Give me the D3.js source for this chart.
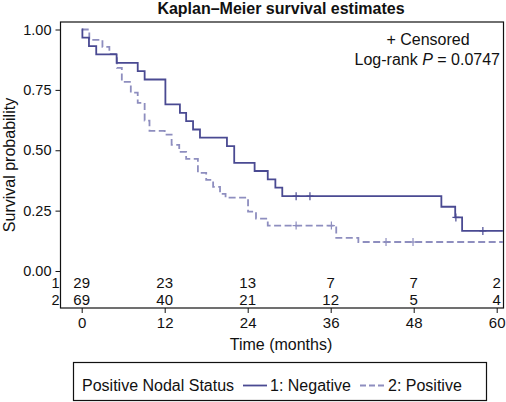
<!DOCTYPE html>
<html>
<head>
<meta charset="utf-8">
<script src="https://cdn.jsdelivr.net/npm/d3@7"></script>
<style>
  html, body { margin: 0; padding: 0; background: #fff; }
  svg { display: block; font-family: "Liberation Sans", Arial, Helvetica, sans-serif; }
</style>
</head>
<body>
<svg id="chart" width="506" height="402"></svg>
<script>
// ---- data ----
const xTicks = [0, 12, 24, 36, 48, 60];
const yTicks = [0, 0.25, 0.5, 0.75, 1.0];

// Group 1: Negative (solid)
const g1Times = [0.1, 1.05, 2.1, 5.05, 8.1, 9.1, 12.1, 14.2, 15.1, 16.1, 17.1, 21.0, 22.05, 25.0, 26.9, 28.0, 29.0, 52.0, 54.0, 55.0];
const g1Surv  = [0.966, 0.931, 0.897, 0.862, 0.828, 0.793, 0.690, 0.655, 0.621, 0.586, 0.552, 0.517, 0.448, 0.414, 0.379, 0.345, 0.310, 0.266, 0.222, 0.166];
const g1CensorTimes = [31.0, 33.0, 54.1, 58.0];
const g1CensorSurv  = [0.310, 0.310, 0.222, 0.166];

// Group 2: Positive (dashed)
const g2Times = [1.1, 3.0, 4.0, 5.1, 5.8, 7.1, 8.1, 9.1, 9.8, 12.0, 13.0, 14.1, 15.1, 16.8, 18.0, 19.0, 20.0, 20.8, 24.05, 25.2, 26.9, 36.8, 40.0];
const g2Surv  = [0.957, 0.928, 0.899, 0.841, 0.783, 0.739, 0.696, 0.623, 0.580, 0.565, 0.522, 0.493, 0.464, 0.406, 0.377, 0.348, 0.319, 0.304, 0.246, 0.217, 0.188, 0.137, 0.120];
const g2CensorTimes = [31.0, 36.1, 44.0, 47.9];
const g2CensorSurv  = [0.188, 0.188, 0.120, 0.120];

const endTime = 60.9;

// Numbers at risk
const riskTimes = [0, 12, 24, 36, 48, 60];
const riskG1 = [29, 23, 13, 7, 7, 2];
const riskG2 = [69, 40, 21, 12, 5, 4];

const groupLabels = ["1: Negative", "2: Positive"];
const legendTitle = "Positive Nodal Status";
const chartTitle = "Kaplan\u2013Meier survival estimates";

// ---- drawing ----
const svg = d3.select("#chart");
const solidColor = "#4a4a92";
const dashColor = "#8e8ebf";
const dashArray = "7,3.5";

const frame = {left: 60.5, top: 22, right: 503.5, bottom: 308};
const x = d3.scaleLinear().domain([0, 60]).range([81.7, 496.7]);
const y = d3.scaleLinear().domain([0, 1]).range([271, 29.5]);

// Title
svg.append("text")
  .attr("x", 281).attr("y", 14)
  .attr("text-anchor", "middle")
  .attr("font-weight", "bold")
  .attr("font-size", 16)
  .attr("fill", "#111")
  .text(chartTitle);

// Frame
svg.append("rect")
  .attr("x", frame.left).attr("y", frame.top)
  .attr("width", frame.right - frame.left)
  .attr("height", frame.bottom - frame.top)
  .attr("fill", "none").attr("stroke", "#111").attr("stroke-width", 1.2);

// Y axis
const yAxis = d3.axisLeft(y).tickValues(yTicks).tickFormat(d3.format(".2f")).tickSize(5).tickPadding(4);
const gy = svg.append("g").attr("transform", `translate(${frame.left},0)`).call(yAxis);
gy.select(".domain").remove();
gy.selectAll("text").attr("font-size", 14.5).attr("font-family", "Liberation Sans, Arial, sans-serif").attr("fill", "#111");
gy.selectAll("line").attr("stroke", "#111");

// X axis
const xAxis = d3.axisBottom(x).tickValues(xTicks).tickSize(5).tickPadding(4);
const gx = svg.append("g").attr("transform", `translate(0,${frame.bottom})`).call(xAxis);
gx.select(".domain").remove();
gx.selectAll("text").attr("font-size", 15).attr("font-family", "Liberation Sans, Arial, sans-serif").attr("fill", "#111");
gx.selectAll("line").attr("stroke", "#111");

// Axis titles
svg.append("text")
  .attr("x", 281).attr("y", 350)
  .attr("text-anchor", "middle").attr("font-size", 16).attr("fill", "#111")
  .text("Time (months)");
svg.append("text")
  .attr("transform", "translate(15,165) rotate(-90)")
  .attr("text-anchor", "middle").attr("font-size", 16).attr("fill", "#111")
  .text("Survival probability");

// KM curves
function stepPoints(times, surv) {
  const pts = [[0, 1]];
  times.forEach((t, i) => pts.push([t, surv[i]]));
  pts.push([endTime, surv[surv.length - 1]]);
  return pts;
}
const line = d3.line().x(d => x(d[0])).y(d => y(d[1])).curve(d3.curveStepAfter);

svg.append("path")
  .datum(stepPoints(g2Times, g2Surv))
  .attr("d", line).attr("fill", "none")
  .attr("stroke", dashColor).attr("stroke-width", 1.8)
  .attr("stroke-dasharray", dashArray);

svg.append("path")
  .datum(stepPoints(g1Times, g1Surv))
  .attr("d", line).attr("fill", "none")
  .attr("stroke", solidColor).attr("stroke-width", 1.8);

// Censor marks
function censors(times, surv, color) {
  const g = svg.append("g").attr("stroke", color).attr("stroke-width", 1.2);
  times.forEach((t, i) => {
    const cx = x(t), cy = y(surv[i]);
    g.append("line").attr("x1", cx).attr("x2", cx).attr("y1", cy - 4).attr("y2", cy + 4);
    g.append("line").attr("x1", cx - 3.5).attr("x2", cx + 3.5).attr("y1", cy).attr("y2", cy);
  });
}
censors(g1CensorTimes, g1CensorSurv, solidColor);
censors(g2CensorTimes, g2CensorSurv, dashColor);

// Annotations
svg.append("text")
  .attr("x", 428).attr("y", 45)
  .attr("text-anchor", "middle").attr("font-size", 16).attr("fill", "#111")
  .text("+ Censored");
const lr = svg.append("text")
  .attr("x", 500).attr("y", 65)
  .attr("text-anchor", "end").attr("font-size", 16).attr("fill", "#111");
lr.append("tspan").text("Log-rank ");
lr.append("tspan").attr("font-style", "italic").text("P");
lr.append("tspan").text(" = 0.0747");

// Numbers at risk
const riskRows = [riskG1, riskG2];
const riskY = [288, 304.5];
riskRows.forEach((row, r) => {
  svg.append("text")
    .attr("x", 59.5).attr("y", riskY[r])
    .attr("text-anchor", "end").attr("font-size", 14.5).attr("fill", "#111")
    .text(String(r + 1));
  svg.append("g").selectAll("text")
    .data(row).join("text")
    .attr("x", (d, i) => x(riskTimes[i])).attr("y", riskY[r])
    .attr("text-anchor", "middle").attr("font-size", 15).attr("fill", "#111")
    .text(d => d);
});

// Legend
const lg = svg.append("g");
lg.append("rect")
  .attr("x", 73.5).attr("y", 362.5).attr("width", 413).attr("height", 38)
  .attr("fill", "#fff").attr("stroke", "#111").attr("stroke-width", 1.2);
const legY = 391;
lg.append("text").attr("x", 82).attr("y", legY).attr("font-size", 16).attr("fill", "#111").text(legendTitle);
lg.append("line").attr("x1", 243).attr("x2", 267).attr("y1", 385.5).attr("y2", 385.5)
  .attr("stroke", solidColor).attr("stroke-width", 1.8);
lg.append("text").attr("x", 270).attr("y", legY).attr("font-size", 16).attr("fill", "#111").text(groupLabels[0]);
lg.append("line").attr("x1", 360).attr("x2", 384).attr("y1", 385.5).attr("y2", 385.5)
  .attr("stroke", dashColor).attr("stroke-width", 1.8).attr("stroke-dasharray", "6,3");
lg.append("text").attr("x", 388).attr("y", legY).attr("font-size", 16).attr("fill", "#111").text(groupLabels[1]);
</script>
</body>
</html>
